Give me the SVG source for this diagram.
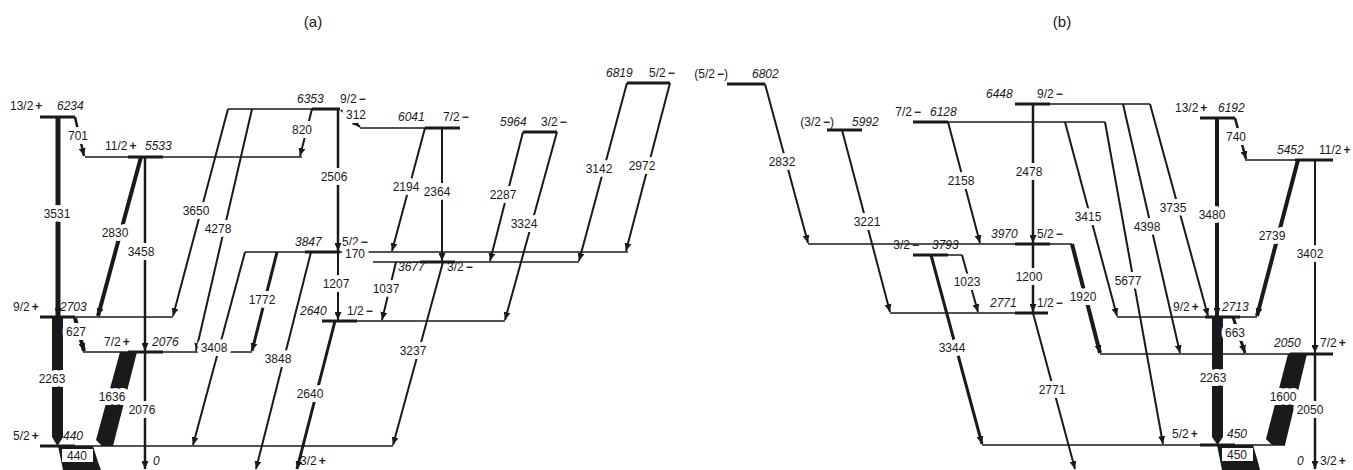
<svg xmlns="http://www.w3.org/2000/svg" width="1353" height="470" viewBox="0 0 1353 470">
<style>
.lv{stroke:#1a1a1a;stroke-width:1.6;fill:none}
.lvt{stroke:#1a1a1a;stroke-width:3;fill:none}
.tr{stroke:#1a1a1a;stroke-width:2;fill:none;marker-end:url(#ah)}
.w25{stroke-width:2.5}
.w3{stroke-width:3}
.w4{stroke-width:4}
.w5{stroke-width:5}
.bar{fill:#1a1a1a;stroke:none}
.t{font-family:"Liberation Sans",Arial,sans-serif;font-size:12px;fill:#1a1a1a}
.it{font-style:italic}
.sg{font-weight:bold}
.gl{text-anchor:middle;paint-order:stroke;stroke:#fff;stroke-width:8px;stroke-linejoin:round}
.ttl{font-family:"Liberation Sans",Arial,sans-serif;font-size:15px;fill:#1a1a1a;text-anchor:middle}
</style>
<defs>
<marker id="ah" markerUnits="userSpaceOnUse" markerWidth="8" markerHeight="7" viewBox="0 0 8 7" refX="8" refY="3.5" orient="auto">
<path d="M0,0 L8,3.5 L0,7 Z" fill="#1a1a1a"/>
</marker>
</defs>
<rect width="1353" height="470" fill="#fff"/>
<text class="ttl" x="313" y="27">(a)</text>
<text class="ttl" x="1062" y="27">(b)</text>

<!-- ===== Panel (a) levels ===== -->
<g id="a-l0">
<text class="t it" x="153" y="465">0</text>
<text class="t" x="300" y="465">3/2<tspan class="sg" dx="2">+</tspan></text>
</g>
<g id="a-l440">
<line class="lv" x1="40" y1="446" x2="393" y2="446"/><line class="lvt" x1="40" y1="446" x2="75" y2="446"/>
<text class="t" x="13" y="440">5/2<tspan class="sg" dx="2">+</tspan></text>
<text class="t it" x="63" y="440">440</text>
</g>
<g id="a-l2076">
<line class="lv" x1="83" y1="352" x2="252" y2="352"/><line class="lvt" x1="128" y1="352" x2="163" y2="352"/>
<text class="t" x="104" y="346">7/2<tspan class="sg" dx="2">+</tspan></text>
<text class="t it" x="152" y="346">2076</text>
</g>
<g id="a-l2640">
<line class="lv" x1="322" y1="321" x2="505" y2="321"/><line class="lvt" x1="322" y1="321" x2="357" y2="321"/>
<text class="t it" x="300" y="315">2640</text>
<text class="t" x="347" y="315">1/2<tspan class="sg" dx="2">−</tspan></text>
</g>
<g id="a-l2703">
<line class="lv" x1="40" y1="317" x2="173" y2="317"/><line class="lvt" x1="40" y1="317" x2="75" y2="317"/>
<text class="t" x="13" y="311">9/2<tspan class="sg" dx="2">+</tspan></text>
<text class="t it" x="60" y="311">2703</text>
</g>
<g id="a-l3677">
<line class="lv" x1="373" y1="262" x2="579" y2="262"/><line class="lvt" x1="420" y1="262" x2="455" y2="262"/>
<text class="t it" x="398" y="271">3677</text>
<text class="t" x="447" y="271">3/2<tspan class="sg" dx="2">−</tspan></text>
</g>
<g id="a-l3847">
<line class="lv" x1="245" y1="252" x2="628" y2="252"/><line class="lvt" x1="305" y1="252" x2="340" y2="252"/>
<text class="t it" x="295" y="246">3847</text>
<text class="t" x="342" y="246">5/2<tspan class="sg" dx="2">−</tspan></text>
</g>
<g id="a-l5533">
<line class="lv" x1="85" y1="157" x2="302" y2="157"/><line class="lvt" x1="128" y1="157" x2="163" y2="157"/>
<text class="t" x="105" y="150">11/2<tspan class="sg" dx="2">+</tspan></text>
<text class="t it" x="145" y="150">5533</text>
</g>
<g id="a-l5964">
<line class="lvt" x1="523" y1="132" x2="557" y2="132"/>
<text class="t it" x="500" y="126">5964</text>
<text class="t" x="541" y="126">3/2<tspan class="sg" dx="2">−</tspan></text>
</g>
<g id="a-l6041">
<line class="lv" x1="360" y1="128" x2="460" y2="128"/><line class="lvt" x1="425" y1="128" x2="460" y2="128"/>
<text class="t it" x="398" y="121">6041</text>
<text class="t" x="443" y="121">7/2<tspan class="sg" dx="2">−</tspan></text>
</g>
<g id="a-l6234">
<line class="lvt" x1="40" y1="117" x2="75" y2="117"/>
<text class="t" x="10" y="110">13/2<tspan class="sg" dx="2">+</tspan></text>
<text class="t it" x="57" y="110">6234</text>
</g>
<g id="a-l6353">
<line class="lv" x1="228" y1="109" x2="340" y2="109"/><line class="lvt" x1="312" y1="109" x2="340" y2="109"/>
<text class="t it" x="297" y="103">6353</text>
<text class="t" x="340" y="103">9/2<tspan class="sg" dx="2">−</tspan></text>
</g>
<g id="a-l6819">
<line class="lvt" x1="627" y1="83" x2="670" y2="83"/>
<text class="t it" x="606" y="77">6819</text>
<text class="t" x="649" y="77">5/2<tspan class="sg" dx="2">−</tspan></text>
</g>

<!-- ===== Panel (b) levels ===== -->
<g id="b-l0">
<text class="t it" x="1297" y="465">0</text>
<text class="t" x="1320" y="465">3/2<tspan class="sg" dx="2">+</tspan></text>
</g>
<g id="b-l450">
<line class="lv" x1="982" y1="445" x2="1285" y2="445"/><line class="lvt" x1="1200" y1="445" x2="1235" y2="445"/>
<text class="t" x="1172" y="438">5/2<tspan class="sg" dx="2">+</tspan></text>
<text class="t it" x="1227" y="438">450</text>
</g>
<g id="b-l2050">
<line class="lv" x1="1100" y1="354" x2="1333" y2="354"/><line class="lvt" x1="1290" y1="354" x2="1333" y2="354"/>
<text class="t it" x="1274" y="347">2050</text>
<text class="t" x="1320" y="347">7/2<tspan class="sg" dx="2">+</tspan></text>
</g>
<g id="b-l2713">
<line class="lv" x1="1117" y1="317" x2="1257" y2="317"/><line class="lvt" x1="1205" y1="317" x2="1240" y2="317"/>
<text class="t" x="1173" y="311">9/2<tspan class="sg" dx="2">+</tspan></text>
<text class="t it" x="1222" y="311">2713</text>
</g>
<g id="b-l2771">
<line class="lv" x1="890" y1="313" x2="1048" y2="313"/><line class="lvt" x1="1015" y1="313" x2="1048" y2="313"/>
<text class="t it" x="990" y="307">2771</text>
<text class="t" x="1037" y="307">1/2<tspan class="sg" dx="2">−</tspan></text>
</g>
<g id="b-l3793">
<line class="lv" x1="913" y1="255" x2="962" y2="255"/><line class="lvt" x1="913" y1="255" x2="948" y2="255"/>
<text class="t" x="919" y="249" text-anchor="end">3/2<tspan class="sg" dx="2">−</tspan></text>
<text class="t it" x="932" y="249">3793</text>
</g>
<g id="b-l3970">
<line class="lv" x1="808" y1="244" x2="1072" y2="244"/><line class="lvt" x1="1015" y1="244" x2="1050" y2="244"/>
<text class="t it" x="991" y="238">3970</text>
<text class="t" x="1037" y="238">5/2<tspan class="sg" dx="2">−</tspan></text>
</g>
<g id="b-l5452">
<line class="lv" x1="1245" y1="160" x2="1333" y2="160"/><line class="lvt" x1="1295" y1="160" x2="1333" y2="160"/>
<text class="t it" x="1277" y="154">5452</text>
<text class="t" x="1319" y="154">11/2<tspan class="sg" dx="2">+</tspan></text>
</g>
<g id="b-l5992">
<line class="lvt" x1="827" y1="130" x2="862" y2="130"/>
<text class="t" x="834" y="126" text-anchor="end">(3/2<tspan class="sg" dx="2">−</tspan>)</text>
<text class="t it" x="852" y="126">5992</text>
</g>
<g id="b-l6128">
<line class="lv" x1="913" y1="122" x2="1105" y2="122"/><line class="lvt" x1="913" y1="122" x2="948" y2="122"/>
<text class="t" x="921" y="116" text-anchor="end">7/2<tspan class="sg" dx="2">−</tspan></text>
<text class="t it" x="930" y="116">6128</text>
</g>
<g id="b-l6192">
<line class="lvt" x1="1200" y1="118" x2="1235" y2="118"/>
<text class="t" x="1175" y="112">13/2<tspan class="sg" dx="2">+</tspan></text>
<text class="t it" x="1218" y="112">6192</text>
</g>
<g id="b-l6448">
<line class="lv" x1="1015" y1="104" x2="1150" y2="104"/><line class="lvt" x1="1015" y1="104" x2="1050" y2="104"/>
<text class="t it" x="986" y="98">6448</text>
<text class="t" x="1037" y="98">9/2<tspan class="sg" dx="2">−</tspan></text>
</g>
<g id="b-l6802">
<line class="lvt" x1="727" y1="84" x2="765" y2="84"/>
<text class="t" x="728" y="78" text-anchor="end">(5/2<tspan class="sg" dx="2">−</tspan>)</text>
<text class="t it" x="752" y="78">6802</text>
</g>

<!-- ===== Connectors ===== -->
<g id="connectors">
<!-- panel a -->
<line class="tr w25" x1="75" y1="117" x2="84" y2="156"/>
<line class="tr w5" x1="58" y1="117" x2="58" y2="316"/>
<line class="tr w4" x1="141" y1="157" x2="98" y2="316"/>
<line class="tr w25" x1="145" y1="157" x2="145" y2="351"/>
<line class="tr" x1="228" y1="109" x2="173" y2="316"/>
<line class="tr" x1="252" y1="109" x2="196" y2="351"/>
<line class="tr" x1="312" y1="109" x2="300" y2="156"/>
<line class="tr" x1="341" y1="110" x2="360" y2="127"/>
<line class="tr w25" x1="338" y1="109" x2="338" y2="251"/>
<line class="tr" x1="425" y1="128" x2="392" y2="251"/>
<line class="tr" x1="442" y1="128" x2="442" y2="261"/>
<line class="tr" x1="338" y1="252" x2="338" y2="320"/>
<line class="tr" x1="396" y1="262" x2="382" y2="320"/>
<line class="tr" x1="443" y1="262" x2="393" y2="445"/>
<line class="tr w3" x1="335" y1="321" x2="297" y2="469"/>
<line class="tr" x1="311" y1="252" x2="256" y2="469"/>
<line class="tr w3" x1="277" y1="252" x2="252" y2="351"/>
<line class="tr" x1="245" y1="252" x2="193" y2="445"/>
<line class="tr" x1="557" y1="132" x2="505" y2="320"/>
<line class="tr" x1="523" y1="132" x2="490" y2="261"/>
<line class="tr" x1="627" y1="83" x2="579" y2="261"/>
<line class="tr" x1="670" y1="83" x2="626" y2="251"/>
<line class="tr w4" x1="75" y1="318" x2="84" y2="351"/>
<line class="tr w25" x1="145" y1="352" x2="145" y2="469"/>
<polygon class="bar" points="52,317 63,317 63,437 57.5,446 52,437"/>
<polygon class="bar" points="120,352 137,352 113,446 102,446 96,440"/>
<polygon class="bar" points="58,446 93,446 98,462 101,470 63,470"/>
<rect x="62" y="449" width="31" height="13" fill="#fff"/>
<!-- panel b -->
<line class="tr" x1="765" y1="84" x2="808" y2="243"/>
<line class="tr" x1="842" y1="130" x2="890" y2="312"/>
<line class="tr" x1="948" y1="122" x2="980" y2="243"/>
<line class="tr w25" x1="1033" y1="104" x2="1033" y2="243"/>
<line class="tr w25" x1="1033" y1="244" x2="1033" y2="312"/>
<line class="tr" x1="1065" y1="122" x2="1117" y2="316"/>
<line class="tr" x1="1105" y1="122" x2="1163" y2="444"/>
<line class="tr" x1="1123" y1="104" x2="1180" y2="353"/>
<line class="tr" x1="1150" y1="104" x2="1208" y2="316"/>
<line class="tr w4" x1="1217" y1="118" x2="1217" y2="316"/>
<line class="tr w25" x1="1235" y1="118" x2="1246" y2="159"/>
<line class="tr w4" x1="1298" y1="160" x2="1257" y2="316"/>
<line class="tr" x1="1315" y1="160" x2="1315" y2="353"/>
<line class="tr w25" x1="1315" y1="354" x2="1315" y2="469"/>
<line class="tr w3" x1="1233" y1="317" x2="1245" y2="353"/>
<line class="tr w4" x1="1072" y1="244" x2="1100" y2="353"/>
<line class="tr" x1="962" y1="255" x2="978" y2="312"/>
<line class="tr w3" x1="931" y1="255" x2="982" y2="444"/>
<line class="tr" x1="1033" y1="313" x2="1075" y2="469"/>
<polygon class="bar" points="1212,317 1223,317 1223,437 1217.5,445 1212,437"/>
<polygon class="bar" points="1288,354 1307,354 1285,445 1272,445 1266,439"/>
<polygon class="bar" points="1217,445 1253,445 1258,462 1260,470 1222,470"/>
<rect x="1222" y="448" width="31" height="13" fill="#fff"/>

<!-- transition labels panel a -->
<text class="t gl" x="78" y="140">701</text>
<text class="t gl" x="57" y="218">3531</text>
<text class="t gl" x="115" y="237">2830</text>
<text class="t gl" x="141" y="256">3458</text>
<text class="t gl" x="196" y="215">3650</text>
<text class="t gl" x="218" y="233">4278</text>
<text class="t gl" x="302" y="134">820</text>
<text class="t gl" x="356" y="119">312</text>
<text class="t gl" x="334" y="181">2506</text>
<text class="t gl" x="406" y="191">2194</text>
<text class="t gl" x="437" y="196">2364</text>
<text class="t gl" x="355" y="258">170</text>
<text class="t gl" x="336" y="288">1207</text>
<text class="t gl" x="386" y="293">1037</text>
<text class="t gl" x="413" y="355">3237</text>
<text class="t gl" x="310" y="398">2640</text>
<text class="t gl" x="278" y="363">3848</text>
<text class="t gl" x="262" y="304">1772</text>
<text class="t gl" x="214" y="352">3408</text>
<text class="t gl" x="524" y="228">3324</text>
<text class="t gl" x="503" y="199">2287</text>
<text class="t gl" x="599" y="173">3142</text>
<text class="t gl" x="642" y="170">2972</text>
<text class="t gl" x="52" y="383">2263</text>
<text class="t gl" x="76" y="336">627</text>
<text class="t gl" x="112" y="401">1636</text>
<text class="t gl" x="142" y="414">2076</text>
<text class="t" x="77" y="460" text-anchor="middle">440</text>
<!-- transition labels panel b -->
<text class="t gl" x="782" y="166">2832</text>
<text class="t gl" x="867" y="226">3221</text>
<text class="t gl" x="961" y="185">2158</text>
<text class="t gl" x="1029" y="176">2478</text>
<text class="t gl" x="1088" y="221">3415</text>
<text class="t gl" x="1128" y="285">5677</text>
<text class="t gl" x="1147" y="231">4398</text>
<text class="t gl" x="1173" y="212">3735</text>
<text class="t gl" x="1212" y="219">3480</text>
<text class="t gl" x="1236" y="141">740</text>
<text class="t gl" x="1272" y="240">2739</text>
<text class="t gl" x="1310" y="258">3402</text>
<text class="t gl" x="1310" y="414">2050</text>
<text class="t gl" x="1283" y="401">1600</text>
<text class="t gl" x="1235" y="337">663</text>
<text class="t gl" x="1213" y="382">2263</text>
<text class="t gl" x="1083" y="301">1920</text>
<text class="t gl" x="1029" y="281">1200</text>
<text class="t gl" x="967" y="286">1023</text>
<text class="t gl" x="952" y="352">3344</text>
<text class="t gl" x="1052" y="394">2771</text>
<text class="t" x="1237" y="459" text-anchor="middle">450</text>
</g>
</svg>
